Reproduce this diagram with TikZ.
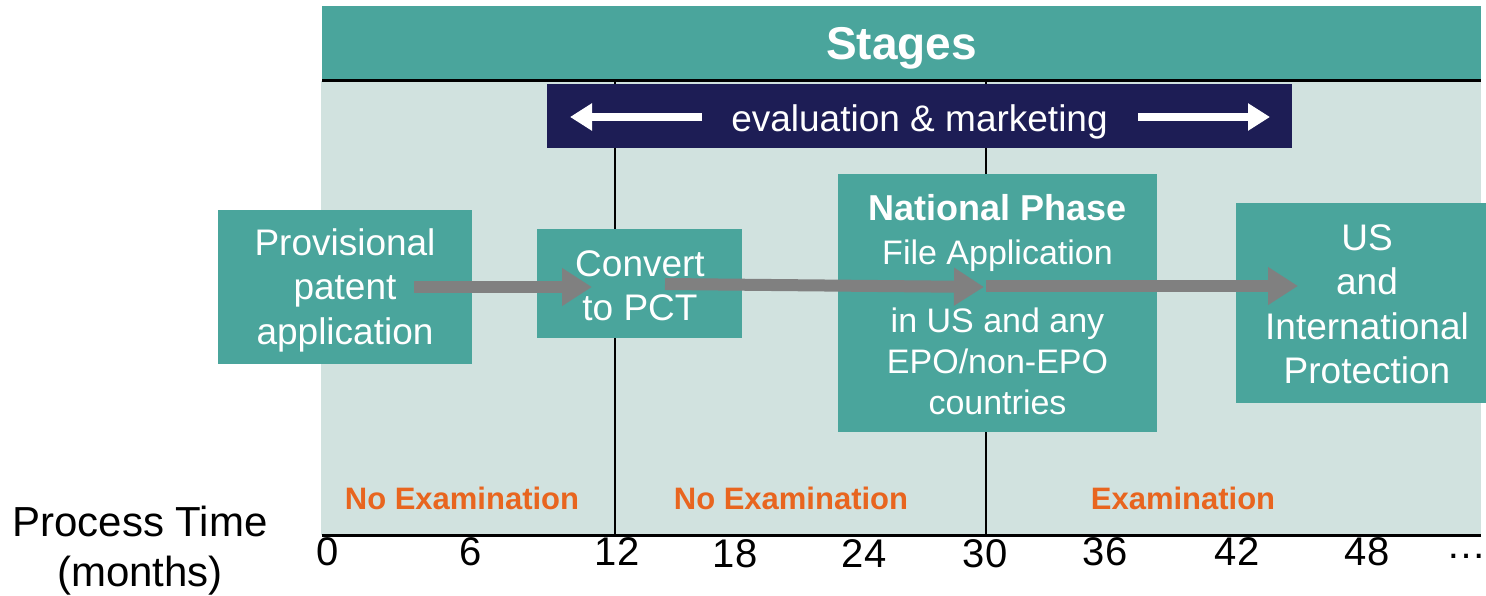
\documentclass[tikz,border=0pt]{standalone}
\usepackage{fontspec}
\setmainfont{Liberation Sans}
\usetikzlibrary{arrows.meta}
\definecolor{stageteal}{RGB}{74,165,156}
\definecolor{stagebg}{RGB}{209,226,223}
\definecolor{evalnavy}{RGB}{29,29,85}
\definecolor{examorange}{RGB}{232,101,31}
\definecolor{flowgray}{RGB}{128,128,128}
\begin{document}
\begin{tikzpicture}[x=1pt,y=-1pt,
  box/.style={fill=stageteal, inner sep=0pt},
  boxtext/.style={text=white, inner sep=0pt, align=center,
    font=\fontsize{37}{44.5}\selectfont},
  flow/.style={draw=flowgray, line width=12pt, -{Triangle[length=30pt,width=36pt]}},
  evalarrow/.style={draw=white, line width=8pt, -{Triangle[length=22pt,width=26pt]}},
  exam/.style={text=examorange, font=\fontsize{31}{36}\selectfont\bfseries, inner sep=0pt},
  tick/.style={font=\fontsize{40}{46}\selectfont, inner sep=0pt},
  divider/.style={draw=black, line width=2pt},
  axisline/.style={draw=black, line width=3pt}]
\clip (0,0) rectangle (1486,596);
\fill[white] (0,0) rectangle (1486,596);

% timeline background and stage header
\fill[stagebg] (321,81) rectangle (1481,535);
\node[box, minimum width=1159pt, minimum height=75pt] (stages) at (901.5,43.5) {};
\node[boxtext, font=\fontsize{46}{52}\selectfont\bfseries] (stagestxt) at (901.5,48.5) {Stages};
\draw[axisline] (322,81) -- (1481,81);

% month boundaries at 12 and 30
\draw[divider] (615,81) -- (615,535);
\draw[divider] (986,81) -- (986,535);
\draw[axisline] (322,535) -- (1481,535);

% evaluation & marketing banner
\node[fill=evalnavy, inner sep=0pt, minimum width=745pt, minimum height=64pt] (eval) at (919.5,116) {};
\node[boxtext] (evaltxt) at (919.5,122) {evaluation \& marketing};
\coordinate (elS) at (702,117);
\coordinate (elE) at (570,117);
\coordinate (erS) at (1138,117);
\coordinate (erE) at (1270,117);
\draw[evalarrow] (elS) -- (elE);
\draw[evalarrow] (erS) -- (erE);

% process steps
\node[box, minimum width=254pt, minimum height=154pt] (prov) at (345,287) {};
\node[boxtext] (provtxt) at (345,290) {Provisional\\patent\\application};
\node[box, minimum width=205pt, minimum height=109pt] (pct) at (639.5,283.5) {};
\node[boxtext] (pcttxt) at (640,286) {Convert\\to PCT};
\node[box, minimum width=319pt, minimum height=258pt] (natl) at (997.5,303) {};
\node[boxtext, font=\fontsize{34}{41}\selectfont] (natltxt) at (997.5,305)
  {{\fontsize{36}{41}\selectfont\bfseries National Phase}\\[3pt]File Application\\[27pt]in US and any\\EPO/non-EPO\\countries};
\node[box, minimum width=262pt, minimum height=200pt] (intl) at (1367,303) {};
\node[boxtext] (intltxt) at (1367,304.5) {US\\and\\International\\Protection};

% flow arrows
\coordinate (f1s) at (414,287);
\coordinate (f1e) at (592,287);
\coordinate (f2s) at (665,284);
\coordinate (f2e) at (984,287);
\coordinate (f3s) at (986,286);
\coordinate (f3e) at (1298,286);
\draw[flow] (f1s) -- (f1e);
\draw[flow] (f2s) -- (f2e);
\draw[flow] (f3s) -- (f3e);

% examination status per period
\node[exam] (ex1) at (462,498) {No Examination};
\node[exam] (ex2) at (791,498) {No Examination};
\node[exam] (ex3) at (1183,498) {Examination};

% time axis
\node[font=\fontsize{42}{50}\selectfont, align=center, inner sep=0pt] (ptime) at (140,551)
  {Process Time\\(months)};
\node[tick] (t0) at (328,552) {0};
\node[tick] (t6) at (471,552) {6};
\node[tick] (t12) at (617,552) {12};
\node[tick] (t18) at (735,554) {18};
\node[tick] (t24) at (864,554) {24};
\node[tick] (t30) at (985,554) {30};
\node[tick] (t36) at (1105,552) {36};
\node[tick] (t42) at (1237,552) {42};
\node[tick] (t48) at (1367,552) {48};
\node[tick] (tmore) at (1466,556) {\dots};
\end{tikzpicture}
\end{document}
